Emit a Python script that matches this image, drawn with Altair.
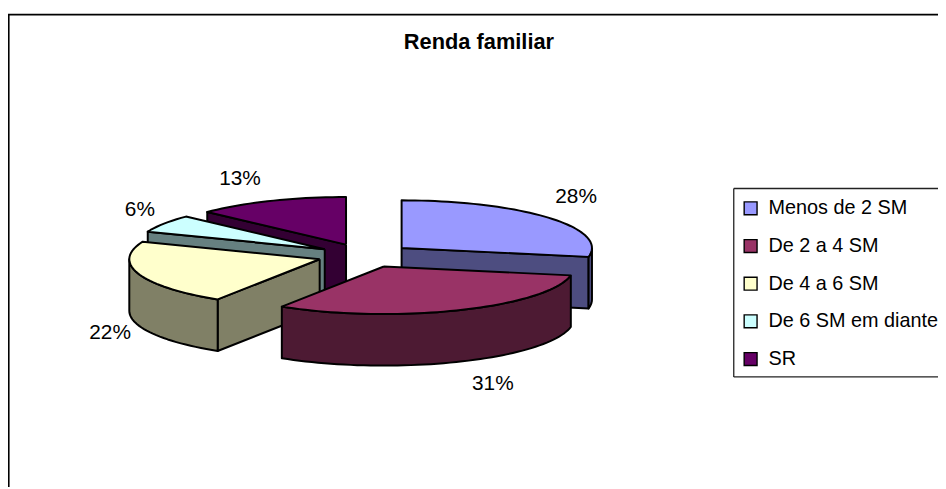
import math
import altair as alt
import pandas as pd

categories = ["Menos de 2 SM", "De 2 a 4 SM", "De 4 a 6 SM", "De 6 SM em diante", "SR"]
shares = [28, 31, 22, 6, 13]
top_colors = ["#9999FF", "#993366", "#FFFFCC", "#CCFFFF", "#660066"]
wall_colors = ["#4D4D80", "#4D1A33", "#808066", "#668080", "#330033"]

FONT = "Liberation Sans"
W, H = 938, 481
CX, CY = 360.0, 247.6     # pie centre in the plot area (px)
RX, RY = 192.0, 48.0      # px per pie radius, across and along the tilt
EXPLODE = 0.25
DEPTH = 52 / RY

x_scale = alt.Scale(domain=[-CX / RX, (W - CX) / RX], range=[0, W], nice=False, zero=False)
y_scale = alt.Scale(domain=[CY / RY, (CY - H) / RY], range=[0, H], nice=False, zero=False)

total = sum(shares)
spans = []
a = 0.0
for v in shares:
    b = a + v / total * 2 * math.pi
    spans.append((a, b))
    a = b


def rim(a0, a1, cx, cy, drop=0.0):
    n = max(2, int(abs(a1 - a0) / math.radians(2)))
    return [(cx + math.sin(a0 + (a1 - a0) * i / n),
             cy + math.cos(a0 + (a1 - a0) * i / n) - drop) for i in range(n + 1)]


def poly(points, *, fill=None, category=None):
    df = pd.DataFrame(points + points[:1], columns=["u", "v"])
    df["i"] = range(len(df))
    df["category"] = category
    enc = dict(
        x=alt.X("u:Q", scale=x_scale, axis=None),
        y=alt.Y("v:Q", scale=y_scale, axis=None),
        order=alt.Order("i:Q"),
    )
    if category is not None:
        enc["fill"] = alt.Fill(
            "category:N",
            scale=alt.Scale(domain=categories, range=top_colors),
            legend=alt.Legend(
                orient="none", legendX=739, legendY=190, title=None, padding=0,
                symbolType="square", symbolSize=169, symbolStrokeColor="black",
                symbolStrokeWidth=1.4, symbolOpacity=1, labelFont=FONT, labelFontSize=20,
                labelColor="black", labelOffset=8, rowPadding=18, labelLimit=300,
            ),
        )
        mark = alt.Chart(df).mark_line(stroke="black", strokeWidth=2, strokeJoin="round")
    else:
        mark = alt.Chart(df).mark_line(fill=fill, stroke="black", strokeWidth=2, strokeJoin="round")
    return mark.encode(**enc)


layers = []


def slice_layers(k):
    a0, a1 = spans[k]
    mid = (a0 + a1) / 2
    cx = EXPLODE * math.sin(mid)
    cy = EXPLODE * math.cos(mid)
    wall = wall_colors[k]
    out = []
    apex = (cx, cy)
    apex_low = (cx, cy - DEPTH)
    # flat cut faces turned towards the viewer
    for ang in (a0, a1):
        px = (cx + math.sin(ang), cy + math.cos(ang))
        normal_front = (ang == a1 and math.sin(ang) > 0) or (ang == a0 and math.sin(ang) < 0)
        if normal_front:
            out.append(poly([apex, px, (px[0], px[1] - DEPTH), apex_low], fill=wall))
    # outer wall: only the front half of the rim is seen
    s0, s1 = max(a0, math.pi / 2), min(a1, 3 * math.pi / 2)
    if s1 > s0:
        top_edge = rim(s0, s1, cx, cy)
        low_edge = rim(s1, s0, cx, cy, DEPTH)
        out.append(poly(top_edge + low_edge, fill=wall))
    out.append(poly([apex] + rim(a0, a1, cx, cy), fill=top_colors[k], category=categories[k]))
    return out


for k in [4, 3, 2, 0, 1]:
    layers.extend(slice_layers(k))

one = alt.Chart(pd.DataFrame({"a": [0]}))

label_px = {0: (573, 189), 1: (489, 377), 2: (103, 326), 3: (133, 202), 4: (234, 170)}
for k, (lx, ly) in label_px.items():
    layers.append(one.mark_text(font=FONT, fontSize=21, color="black", align="center", baseline="middle").encode(
        x=alt.value(lx), y=alt.value(ly), text=alt.value(f"{shares[k]}%")))

frame = [
    dict(x=alt.value(0.7), y=alt.value(4.7), y2=alt.value(H)),
    dict(y=alt.value(4.7), x=alt.value(0), x2=alt.value(W)),
]
for e in frame:
    layers.append(one.mark_rule(color="black", strokeWidth=1.8).encode(**e))
box = [
    dict(x=alt.value(732), y=alt.value(180), y2=alt.value(370)),
    dict(y=alt.value(180), x=alt.value(732), x2=alt.value(W)),
    dict(y=alt.value(370), x=alt.value(732), x2=alt.value(W)),
]
for e in box:
    layers.append(one.mark_rule(color="#222222", strokeWidth=1.3).encode(**e))

chart = alt.layer(*layers).properties(
    width=W, height=H, padding=0,
    autosize=alt.AutoSizeParams(type="none", contains="padding"),
    title=alt.TitleParams("Renda familiar", font=FONT, fontSize=22, fontWeight="bold", color="black",
                          anchor="middle", frame="group", orient="top", offset=0, dy=54, dx=6,
                          baseline="middle"),
).configure_view(stroke=None).resolve_scale(fill="shared")

chart.save("out.html", embed_options={"renderer": "svg", "actions": False})
